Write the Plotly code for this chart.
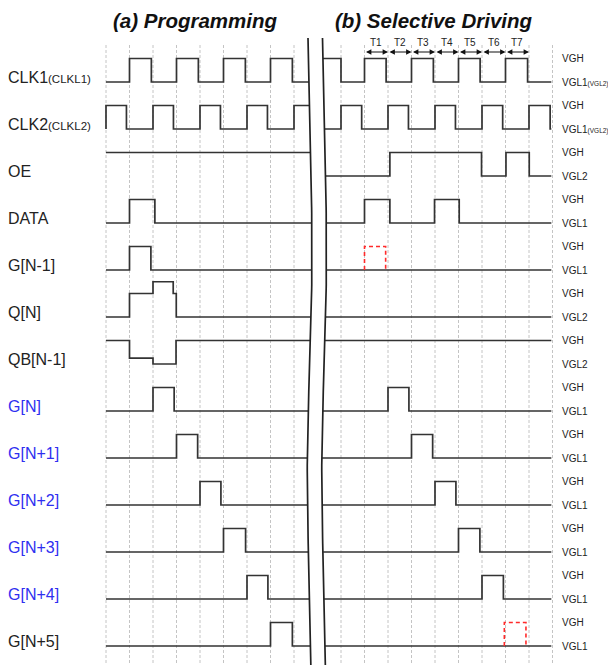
import plotly.graph_objects as go
import numpy as np

# ---------------- data ----------------
ROW_LABELS = ["CLK1", "CLK2", "OE", "DATA", "G[N-1]", "Q[N]", "QB[N-1]",
              "G[N]", "G[N+1]", "G[N+2]", "G[N+3]", "G[N+4]", "G[N+5]"]
ROW_SUFFIX = ["(CLKL1)", "(CLKL2)", "", "", "", "", "", "", "", "", "", "", ""]
ROW_BLUE = [False] * 7 + [True] * 5 + [False]
HIGH_LABELS = ["VGH"] * 13
LOW_LABELS = ["VGL1", "VGL1", "VGL2", "VGL1", "VGL1", "VGL2", "VGL2",
              "VGL1", "VGL1", "VGL1", "VGL1", "VGL1", "VGL1"]
LOW_SUFFIX = ["(VGL2)", "(VGL2)"] + [""] * 11

# (a) programming: edge times and levels (0 = low, 1 = high)
clk1_a_t = [0, 1, 1.93, 3, 3.93, 5, 5.93, 7, 7.93]
clk1_a_v = [0, 1, 0, 1, 0, 1, 0, 1, 0]
clk2_a_t = [0, 0, 0.87, 2, 2.87, 4, 4.87, 6, 6.87, 8]
clk2_a_v = [0, 1, 0, 1, 0, 1, 0, 1, 0, 1]
oe_a_t = [0]
oe_a_v = [1]
data_a_t = [0, 1, 2.08]
data_a_v = [0, 1, 0]
gnm1_a_t = [0, 1, 1.91]
gnm1_a_v = [0, 1, 0]
qn_a_t = [0, 1, 2, 2.86, 2.99]
qn_a_v = [0, 1, 1.5, 1, 0]
qbn_a_t = [0, 1, 2, 2.98]
qbn_a_v = [1, 0.25, 0, 1]
gn_a_t = [0, 2, 2.9]
gn1_a_t = [0, 3, 3.9]
gn2_a_t = [0, 4, 4.89]
gn3_a_t = [0, 5, 5.94]
gn4_a_t = [0, 6, 6.89]
gn5_a_t = [0, 7, 7.93]
pulse_v = [0, 1, 0]

# (b) selective driving
clk1_b_t = [8.95, 10, 11, 11.92, 13, 13.93, 15, 15.92, 17, 17.94]
clk1_b_v = [1, 0, 1, 0, 1, 0, 1, 0, 1, 0]
clk2_b_t = [8.95, 10, 10.88, 12, 12.87, 14, 14.87, 16, 16.88, 18, 18.9]
clk2_b_v = [0, 1, 0, 1, 0, 1, 0, 1, 0, 1, 0]
oe_b_t = [8.95, 12.08, 15.98, 17.02, 18.01]
oe_b_v = [0, 1, 0, 1, 0]
data_b_t = [8.95, 11, 12.08, 13.98, 15.03]
data_b_v = [0, 1, 0, 1, 0]
gnm1_b_t = [8.95]
gnm1_b_v = [0]
qn_b_t = [8.95]
qn_b_v = [0]
qbn_b_t = [8.95]
qbn_b_v = [1]
gn_b_t = [8.95, 12, 12.89]
gn1_b_t = [8.95, 13, 13.9]
gn2_b_t = [8.95, 14, 14.89]
gn3_b_t = [8.95, 15, 15.91]
gn4_b_t = [8.95, 16, 16.91]
gn5_b_t = [8.95]
flat_low = [0]

A_END = 8.95
B_END = 18.95

signals_a = [(clk1_a_t, clk1_a_v), (clk2_a_t, clk2_a_v), (oe_a_t, oe_a_v),
             (data_a_t, data_a_v), (gnm1_a_t, gnm1_a_v), (qn_a_t, qn_a_v),
             (qbn_a_t, qbn_a_v), (gn_a_t, pulse_v), (gn1_a_t, pulse_v),
             (gn2_a_t, pulse_v), (gn3_a_t, pulse_v), (gn4_a_t, pulse_v),
             (gn5_a_t, pulse_v)]
signals_b = [(clk1_b_t, clk1_b_v), (clk2_b_t, clk2_b_v), (oe_b_t, oe_b_v),
             (data_b_t, data_b_v), (gnm1_b_t, gnm1_b_v), (qn_b_t, qn_b_v),
             (qbn_b_t, qbn_b_v), (gn_b_t, pulse_v), (gn1_b_t, pulse_v),
             (gn2_b_t, pulse_v), (gn3_b_t, pulse_v), (gn4_b_t, pulse_v),
             (gn5_b_t, flat_low)]

# red dashed "missing pulse" boxes: (row, start, end)
missing_rows = [4, 12]
missing_start = [11.0, 16.95]
missing_end = [11.9, 17.87]

# T1..T7 periods
period_labels = ["T1", "T2", "T3", "T4", "T5", "T6", "T7"]
period_start = [11, 12, 13, 14, 15, 16, 17]
period_end = [12, 13, 14, 15, 16, 17, 18]

grid_a = list(range(0, 9))
grid_b = list(range(10, 20))

# ---------------- geometry helpers ----------------
# page has an 8px body margin: figure occupies page pixels 8..616 / 8..665
OFF = 8
W, H = 616 - OFF, 665 - OFF
PX0, PXU = 106.0, 23.5     # page pixel x of t=0, pixels per time unit
PY0, PYU = 82.0, 47.0      # page pixel y of row-0 low level, pixels per row
HALF = 0.5                 # high level height in row units
LINE = "#333333"


def ylev(row, v):
    return -row + HALF * v


def px_to_t(px):
    return (px - PX0) / PXU


def py_to_y(py):
    return (PY0 - py) / PYU


def px_paper(px):
    return (px - OFF) / W


fig = go.Figure()

# gridlines
gx, gy = [], []
ytop, ybot = py_to_y(45), py_to_y(680)
for t in grid_a + grid_b:
    gx += [t, t, None]
    gy += [ytop, ybot, None]
fig.add_trace(go.Scatter(x=gx, y=gy, mode="lines", hoverinfo="skip",
                         line=dict(color="#c4c4c4", width=1, dash="3px,2px")))

# signals
for row, ((ta, va), (tb, vb)) in enumerate(zip(signals_a, signals_b)):
    for ts, vs, tend in ((ta, va, A_END), (tb, vb, B_END)):
        xs = list(ts) + [tend]
        ys = [ylev(row, v) for v in vs] + [ylev(row, vs[-1])]
        fig.add_trace(go.Scatter(x=xs, y=ys, mode="lines", line_shape="hv",
                                 hoverinfo="skip",
                                 line=dict(color=LINE, width=1.7)))

# red dashed boxes
for row, s, e in zip(missing_rows, missing_start, missing_end):
    fig.add_trace(go.Scatter(x=[s, s, e, e],
                             y=[ylev(row, 0), ylev(row, 1), ylev(row, 1), ylev(row, 0)],
                             mode="lines", hoverinfo="skip",
                             line=dict(color="#ff2a2a", width=1.6, dash="4px,3px")))

# break curves (Catmull-Rom through anchor pixels)
anchors_px = np.array([[308, 38], [310.5, 140], [312, 260], [310, 350],
                       [307.3, 455], [308.5, 560], [311, 672]], dtype=float)


def catmull(pts, n=20):
    p = np.vstack([pts[0] * 2 - pts[1], pts, pts[-1] * 2 - pts[-2]])
    out = []
    for i in range(1, len(p) - 2):
        p0, p1, p2, p3 = p[i - 1], p[i], p[i + 1], p[i + 2]
        for s in np.linspace(0, 1, n, endpoint=False):
            out.append(0.5 * ((2 * p1) + (-p0 + p2) * s +
                              (2 * p0 - 5 * p1 + 4 * p2 - p3) * s ** 2 +
                              (-p0 + 3 * p1 - 3 * p2 + p3) * s ** 3))
    out.append(p[-2])
    return np.array(out)


cl = catmull(anchors_px)
cr = cl + np.array([14.5, 0])
lx, ly = px_to_t(cl[:, 0]), py_to_y(cl[:, 1])
rx, ry = px_to_t(cr[:, 0]), py_to_y(cr[:, 1])
fig.add_trace(go.Scatter(x=np.concatenate([lx, rx[::-1]]),
                         y=np.concatenate([ly, ry[::-1]]),
                         mode="lines", fill="toself", fillcolor="white",
                         line=dict(width=0, color="white"), hoverinfo="skip"))
for cx, cy in ((lx, ly), (rx, ry)):
    fig.add_trace(go.Scatter(x=cx, y=cy, mode="lines", hoverinfo="skip",
                             line=dict(color="#222222", width=1.7)))

ann = []
FONT = "Liberation Sans, Arial, sans-serif"
# titles
ann.append(dict(x=px_to_t(195), y=py_to_y(20), text="<b><i>(a) Programming</i></b>",
                showarrow=False, font=dict(family=FONT, size=20.5, color="#111")))
ann.append(dict(x=px_to_t(434), y=py_to_y(20), text="<b><i>(b) Selective Driving</i></b>",
                showarrow=False, font=dict(family=FONT, size=20.5, color="#111")))

# row labels
for row, (name, suf, blue) in enumerate(zip(ROW_LABELS, ROW_SUFFIX, ROW_BLUE)):
    txt = name + (f"<span style='font-size:11.5px'>{suf}</span>" if suf else "")
    ann.append(dict(x=px_paper(6), xref="paper", y=ylev(row, 0.25), xanchor="left",
                    yanchor="middle", text=txt, showarrow=False, yshift=-1,
                    font=dict(family=FONT, size=16,
                              color="#2f2ff0" if blue else "#222222")))
    ann.append(dict(x=px_paper(560), xref="paper", y=ylev(row, 1), xanchor="left",
                    yanchor="middle", text=HIGH_LABELS[row], showarrow=False,
                    font=dict(family=FONT, size=10, color="#222222")))
    lt = LOW_LABELS[row] + (f"<span style='font-size:6.5px'>{LOW_SUFFIX[row]}</span>"
                            if LOW_SUFFIX[row] else "")
    ann.append(dict(x=px_paper(560), xref="paper", y=ylev(row, 0), xanchor="left",
                    yanchor="middle", text=lt, showarrow=False,
                    font=dict(family=FONT, size=10, color="#222222")))

# T periods
ya = py_to_y(52)
for lab, s, e in zip(period_labels, period_start, period_end):
    ann.append(dict(x=e, y=ya, ax=s, ay=ya, axref="x", ayref="y", text="",
                    showarrow=True, arrowside="end+start", arrowhead=2,
                    startarrowhead=2, arrowsize=0.9, startarrowsize=0.9,
                    arrowwidth=1.2, arrowcolor="#111", standoff=0, startstandoff=0))
    ann.append(dict(x=(s + e) / 2, y=py_to_y(42), text=lab, showarrow=False,
                    font=dict(family=FONT, size=10, color="#222222")))

fig.update_layout(
    width=W, height=H, margin=dict(l=0, r=0, t=0, b=0),
    paper_bgcolor="white", plot_bgcolor="white", showlegend=False,
    annotations=ann,
    xaxis=dict(range=[px_to_t(OFF), px_to_t(OFF + W)], visible=False, fixedrange=True),
    yaxis=dict(range=[py_to_y(OFF + H), py_to_y(OFF)], visible=False, fixedrange=True),
)
fig.write_html("out.html")
